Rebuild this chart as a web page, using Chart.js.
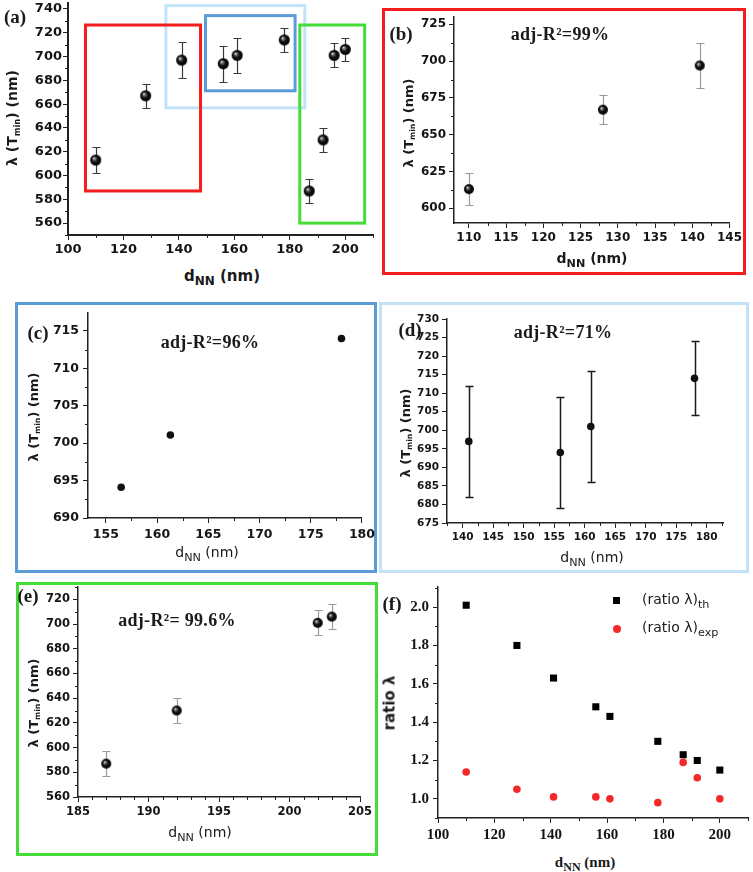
<!DOCTYPE html>
<html>
<head>
<meta charset="utf-8">
<script src="https://cdn.jsdelivr.net/npm/chart.js@4.4.1/dist/chart.umd.min.js"></script>
<style>
  body { margin: 0; background: #fff; width: 753px; height: 872px; position: relative; overflow: hidden;
         font-family: "DejaVu Sans", "Liberation Sans", Arial, sans-serif; color: #1a1a1a; }
  canvas { position: absolute; }
  .t { position: absolute; transform: translate(-50%, -50%); white-space: nowrap; line-height: 1; }
  .rot { transform: translate(-50%, -50%) rotate(-90deg); }
  .pl { font-family: "Liberation Serif", "Times New Roman", serif; font-weight: bold; font-size: 19px; }
  .r2 { font-family: "Liberation Serif", "Times New Roman", serif; font-weight: bold; font-size: 18px; letter-spacing: 0.3px; }
  .frame { position: absolute; box-sizing: border-box; border: 3px solid; }
  sub { font-size: 0.8em; vertical-align: -0.35em; line-height: 0; }
  sub.s { font-size: 0.6em; vertical-align: -0.3em; }
</style>
</head>
<body>
<div class="frame" style="left:382px;top:8px;width:364px;height:267px;border-color:#f41c1c"></div>
<div class="frame" style="left:15px;top:302px;width:362px;height:271px;border-color:#5b9bd8"></div>
<div class="frame" style="left:379px;top:302px;width:370px;height:271px;border-color:#c2e2f8"></div>
<div class="frame" style="left:16px;top:582px;width:362px;height:274px;border-color:#44dd38"></div>

<script>
// (a) all samples
const dA = [110, 128, 141, 156, 161, 178, 187, 192, 196, 200];
const lamA = [613, 667, 697, 694, 701, 714, 587, 630, 701, 706];
const errA = [11, 10, 15, 15, 15, 10, 10, 10, 10, 10];
// boxes grouping the samples in (a), in data units: light blue, red, blue, green
const boxColors = ['#c2e2f8', '#f41c1c', '#5b9bd8', '#44dd38'];
const boxX0 = [135.3, 106.3, 149.6, 183.6];
const boxX1 = [185.4, 147.8, 181.9, 207.0];
const boxY0 = [656.9, 587.0, 671.2, 560.0];
const boxY1 = [742.8, 726.5, 734.4, 726.5];
// (b)
const dB = [110, 128, 141];
const lamB = [613, 667, 697];
const errB = [11, 10, 15];
// (c)
const dC = [156.5, 161.3, 178];
const lamC = [694.1, 701.1, 714.0];
// (d)
const dD = [141, 156, 161, 178];
const lamD = [697, 694, 701, 714];
const errD = [15, 15, 15, 10];
// (e)
const dE = [187, 192, 202, 203];
const lamE = [587, 630, 701, 706];
const errE = [10, 10, 10, 10];
// (f)
const dF = [110, 128, 141, 156, 161, 178, 187, 192, 200];
const ratioTh = [2.01, 1.80, 1.63, 1.48, 1.43, 1.30, 1.23, 1.20, 1.15];
const ratioExp = [1.14, 1.05, 1.01, 1.01, 1.00, 0.98, 1.19, 1.11, 1.00];

const SANS = "'DejaVu Sans', 'Liberation Sans', Arial, sans-serif";
const SERIF = "'Liberation Serif', 'Times New Roman', serif";

const pts = (xs, ys) => xs.map((x, i) => ({x: x, y: ys[i]}));

function ball(r) {
    const c = document.createElement('canvas');
    const s = Math.ceil(2 * r + 2);
    c.width = c.height = s;
    const g = c.getContext('2d');
    const m = s / 2;
    const grad = g.createRadialGradient(m - r * 0.35, m - r * 0.35, 0, m, m, r);
    grad.addColorStop(0, '#f6f6f6');
    grad.addColorStop(0.25, '#707070');
    grad.addColorStop(0.55, '#111');
    grad.addColorStop(1, '#000');
    g.fillStyle = grad;
    g.beginPath();
    g.arc(m, m, r, 0, Math.PI * 2);
    g.fill();
    return c;
}

const errorBars = {
    id: 'errorBars',
    beforeDatasetsDraw(chart) {
        const ctx = chart.ctx, xs = chart.scales.x, ys = chart.scales.y;
        chart.data.datasets.forEach(ds => {
            if (!ds.yErr) return;
            ctx.save();
            ctx.strokeStyle = ds.errColor;
            ctx.lineWidth = ds.errWidth || 1;
            ds.data.forEach((p, i) => {
                const x = Math.round(xs.getPixelForValue(p.x)) + 0.5;
                const y1 = Math.round(ys.getPixelForValue(p.y - ds.yErr[i])) + 0.5;
                const y2 = Math.round(ys.getPixelForValue(p.y + ds.yErr[i])) + 0.5;
                const c = ds.cap || 3;
                ctx.beginPath();
                ctx.moveTo(x, y1); ctx.lineTo(x, y2);
                ctx.moveTo(x - c, y1); ctx.lineTo(x + c, y1);
                ctx.moveTo(x - c, y2); ctx.lineTo(x + c, y2);
                ctx.stroke();
            });
            ctx.restore();
        });
    }
};

const minorTicks = {
    id: 'minorTicks',
    afterDraw(chart, args, opts) {
        const ctx = chart.ctx;
        ctx.save();
        ctx.strokeStyle = '#222';
        ctx.lineWidth = 1;
        ['x', 'y'].forEach(k => {
            const step = opts[k];
            if (!step) return;
            const s = chart.scales[k];
            const major = s.options.ticks.stepSize;
            const start = Math.ceil(s.min / step - 1e-9);
            for (let i = start; i * step <= s.max + 1e-9; i++) {
                const v = i * step;
                if (Math.abs(v / major - Math.round(v / major)) < 1e-6) continue;
                const p = Math.round(s.getPixelForValue(v)) + 0.5;
                ctx.beginPath();
                if (k === 'x') { ctx.moveTo(p, s.top); ctx.lineTo(p, s.top + 3); }
                else { ctx.moveTo(s.right, p); ctx.lineTo(s.right - 3, p); }
                ctx.stroke();
            }
        });
        ctx.restore();
    }
};

const groupBoxes = {
    id: 'groupBoxes',
    beforeDatasetsDraw(chart, args, opts) {
        if (!opts.on) return;
        const ctx = chart.ctx, xs = chart.scales.x, ys = chart.scales.y;
        ctx.save();
        ctx.lineWidth = 3;
        boxColors.forEach((col, i) => {
            const x0 = xs.getPixelForValue(boxX0[i]), x1 = xs.getPixelForValue(boxX1[i]);
            const y0 = ys.getPixelForValue(boxY0[i]), y1 = ys.getPixelForValue(boxY1[i]);
            ctx.strokeStyle = col;
            ctx.strokeRect(x0, y1, x1 - x0, y0 - y1);
        });
        ctx.restore();
    }
};

function panel(box, area, o) {
    const cv = document.createElement('canvas');
    cv.width = box.w; cv.height = box.h;
    cv.style.left = box.x + 'px'; cv.style.top = box.y + 'px';
    cv.style.width = box.w + 'px'; cv.style.height = box.h + 'px';
    document.body.appendChild(cv);
    const font = {family: o.family || SANS, size: o.fs, weight: 'bold'};
    const axis = (a) => ({
        type: 'linear', min: a.min, max: a.max,
        border: {color: '#222', width: o.bw || 1.5},
        grid: {display: true, drawOnChartArea: false, tickLength: 5, color: '#222', tickWidth: 1},
        ticks: {stepSize: a.step, includeBounds: false, autoSkip: false, maxRotation: 0,
                font: font, color: '#151515', padding: a.pad}
    });
    const x = axis(o.x), y = axis(o.y);
    x.afterFit = s => { s.height = box.y + box.h - area.b; };
    y.afterFit = s => { s.width = area.l - box.x; };
    new Chart(cv, {
        type: 'scatter',
        data: {datasets: o.datasets},
        options: {
            responsive: false, animation: false, devicePixelRatio: 1,
            layout: {padding: {left: 0, top: area.t - box.y, right: box.x + box.w - area.r, bottom: 0}},
            plugins: {
                legend: {display: false}, tooltip: {enabled: false},
                minorTicks: {x: o.x.minor, y: o.y.minor},
                groupBoxes: {on: !!o.boxes}
            },
            scales: {x: x, y: y}
        },
        plugins: [errorBars, minorTicks, groupBoxes]
    });
}

// (a)
panel({x: 0, y: -12, w: 380, h: 275}, {l: 68, t: 3, r: 375, b: 235}, {
    fs: 13, bw: 2, boxes: true,
    x: {min: 100, max: 210, step: 20, minor: 10, pad: 2},
    y: {min: 550, max: 745, step: 20, minor: 10, pad: 1},
    datasets: [{data: pts(dA, lamA), pointStyle: ball(5.5), pointRadius: 6,
                yErr: errA, errColor: '#3a3a3a', errWidth: 1.2, cap: 4}]
});
// (b)
panel({x: 383, y: 2, w: 362, h: 249}, {l: 454, t: 17, r: 731, b: 223}, {
    fs: 12, bw: 1.5,
    x: {min: 108, max: 145, step: 5, minor: 2.5, pad: 3},
    y: {min: 590, max: 730, step: 25, minor: 12.5, pad: 3},
    datasets: [{data: pts(dB, lamB), pointStyle: ball(5), pointRadius: 5,
                yErr: errB, errColor: '#9a9a9a', errWidth: 1.2, cap: 4}]
});
// (c)
panel({x: 17, y: 298, w: 362, h: 250}, {l: 88, t: 313, r: 365, b: 518}, {
    fs: 12.5, bw: 1.5,
    x: {min: 153.26, max: 180, step: 5, minor: 2.5, pad: 4},
    y: {min: 690, max: 717.4, step: 5, minor: 2.5, pad: 4},
    datasets: [{data: pts(dC, lamC), pointStyle: 'circle', pointRadius: 3.8,
                backgroundColor: '#111', borderWidth: 0}]
});
// (d)
panel({x: 382, y: 304, w: 368, h: 247}, {l: 447, t: 319, r: 723, b: 523}, {
    fs: 10.5, bw: 1.5,
    x: {min: 137.43, max: 182.67, step: 5, minor: 2.5, pad: 3},
    y: {min: 675, max: 730, step: 5, pad: 3},
    datasets: [{data: pts(dD, lamD), pointStyle: 'circle', pointRadius: 3.8,
                backgroundColor: '#111', borderWidth: 0,
                yErr: errD, errColor: '#1a1a1a', errWidth: 1.5, cap: 4}]
});
// (e)
panel({x: 18, y: 572, w: 358, h: 253}, {l: 78, t: 587, r: 360, b: 797}, {
    fs: 11.5, bw: 1.5,
    x: {min: 185, max: 205, step: 5, minor: 1, pad: 3},
    y: {min: 560, max: 730, step: 20, minor: 10, pad: 3},
    datasets: [{data: pts(dE, lamE), pointStyle: ball(5), pointRadius: 5,
                yErr: errE, errColor: '#9a9a9a', errWidth: 1.2, cap: 4}]
});
// (f)
panel({x: 380, y: 572, w: 373, h: 274}, {l: 438, t: 587, r: 750, b: 818}, {
    fs: 15, bw: 1.5, family: SERIF,
    x: {min: 100, max: 210, step: 20, minor: 10, pad: 3},
    y: {min: 0.9, max: 2.105, step: 0.2, minor: 0.1, pad: 4},
    datasets: [
        {data: pts(dF, ratioTh), pointStyle: 'rect', pointRadius: 5, backgroundColor: '#000', borderWidth: 0},
        {data: pts(dF, ratioExp), pointStyle: 'circle', pointRadius: 3.8, backgroundColor: '#f42828', borderWidth: 0}
    ]
});

const texts = [
    ['(a)', 15, 16, 'pl'],
    ['λ (T<sub class="s">min</sub>) (nm)', 12, 118, 'rot', 'font-size:14px;font-weight:bold'],
    ['d<sub>NN</sub> (nm)', 222, 276, '', 'font-size:15px;font-weight:bold'],
    ['(b)', 401, 33, 'pl'],
    ['adj-R²=99%', 560, 34, 'r2'],
    ['λ (T<sub class="s">min</sub>) (nm)', 408, 123, 'rot', 'font-size:13px;font-weight:bold'],
    ['d<sub>NN</sub> (nm)', 592, 258, '', 'font-size:14px;font-weight:bold'],
    ['(c)', 38, 332, 'pl'],
    ['adj-R²=96%', 210, 342, 'r2'],
    ['λ (T<sub class="s">min</sub>) (nm)', 33, 417, 'rot', 'font-size:13px;font-weight:bold'],
    ['d<sub>NN</sub> (nm)', 207, 552, '', 'font-size:14px'],
    ['(d)', 410, 329, 'pl'],
    ['adj-R²=71%', 563, 332, 'r2'],
    ['λ (T<sub class="s">min</sub>) (nm)', 405, 433, 'rot', 'font-size:13px;font-weight:bold'],
    ['d<sub>NN</sub> (nm)', 592, 557, '', 'font-size:14px'],
    ['(e)', 28, 595, 'pl'],
    ['adj-R²= 99.6%', 177, 620, 'r2'],
    ['λ (T<sub class="s">min</sub>) (nm)', 33, 703, 'rot', 'font-size:13px;font-weight:bold'],
    ['d<sub>NN</sub> (nm)', 200, 832, '', 'font-size:14px'],
    ['(f)', 392, 603, 'pl'],
    ['ratio λ', 390, 703, 'rot', 'font-size:15px;font-weight:bold'],
    ['d<sub>NN</sub> (nm)', 585, 862, '', 'font-family:"Liberation Serif",serif;font-size:15px;font-weight:bold']
];
texts.forEach(([html, x, y, cls, style]) => {
    const d = document.createElement('div');
    d.className = 't ' + (cls || '');
    d.style.left = x + 'px';
    d.style.top = y + 'px';
    if (style) d.style.cssText += style;
    d.innerHTML = html;
    document.body.appendChild(d);
});

// legend of (f)
const legend = [['(ratio λ)<sub>th</sub>', 601, 'rect'], ['(ratio λ)<sub>exp</sub>', 629, 'dot']];
legend.forEach(([html, y, kind]) => {
    const m = document.createElement('div');
    m.style.cssText = 'position:absolute;left:613px;top:' + (y - 4) + 'px;width:7px;height:7px;background:' +
        (kind === 'rect' ? '#000' : '#f42828;border-radius:50%;width:8px;height:8px');
    document.body.appendChild(m);
    const t = document.createElement('div');
    t.style.cssText = 'position:absolute;left:642px;top:' + (y - 9) + 'px;font-size:14px;white-space:nowrap;line-height:1';
    t.innerHTML = html;
    document.body.appendChild(t);
});
</script>
</body>
</html>
